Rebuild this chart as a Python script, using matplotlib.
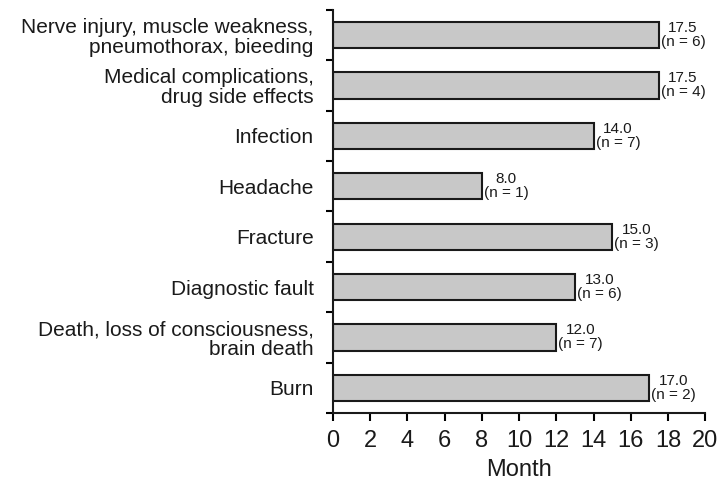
import matplotlib
matplotlib.use("Agg")
import matplotlib.pyplot as plt
import numpy as np

categories = [
    "Nerve injury, muscle weakness,\npneumothorax, bieeding",
    "Medical complications,\ndrug side effects",
    "Infection",
    "Headache",
    "Fracture",
    "Diagnostic fault",
    "Death, loss of consciousness,\nbrain death",
    "Burn",
]
months = [17.5, 17.5, 14.0, 8.0, 15.0, 13.0, 12.0, 17.0]
counts = [6, 4, 7, 1, 3, 6, 7, 2]
xticks = list(range(0, 21, 2))

plt.rcParams['font.family'] = ['Liberation Sans', 'DejaVu Sans']

fig = plt.figure(figsize=(7.27, 4.94), dpi=100)
ax = fig.add_axes([0.458, 0.164, 0.512, 0.816])

n = len(categories)
ypos = np.arange(n)[::-1]
ax.barh(ypos, months, height=0.52, color="#c8c8c8", edgecolor="#1a1a1a", linewidth=1.5)

for y, m, c in zip(ypos, months, counts):
    ax.annotate(f"{m:.1f}\n(n = {c})", xy=(m, y), xytext=(1.5, 0), textcoords="offset points",
                ha="left", va="center", multialignment="center", fontsize=11, linespacing=1.0,
                color="#1a1a1a")

ax.set_xlim(0, 20)
ax.set_ylim(-0.5, n - 0.5)
ax.set_xticks(xticks)
ax.set_xticklabels([str(t) for t in xticks], fontsize=17)
ax.set_yticks(ypos)
ax.set_yticklabels(categories, fontsize=15, linespacing=1.05, color="#1a1a1a")
ax.set_yticks(np.arange(-0.5, n, 1.0), minor=True)
ax.tick_params(axis="y", which="major", length=0, pad=14)
ax.tick_params(axis="y", which="minor", length=5, width=1.5, direction="out")
ax.tick_params(axis="x", which="major", length=6, width=1.5, direction="out", pad=6,
               labelcolor="#1a1a1a")
ax.set_xlabel("Month", fontsize=17, labelpad=5, color="#1a1a1a")

for s in ["top", "right"]:
    ax.spines[s].set_visible(False)
for s in ["left", "bottom"]:
    ax.spines[s].set_linewidth(1.5)
    ax.spines[s].set_color("#1a1a1a")

fig.savefig("out.png", dpi=100)
